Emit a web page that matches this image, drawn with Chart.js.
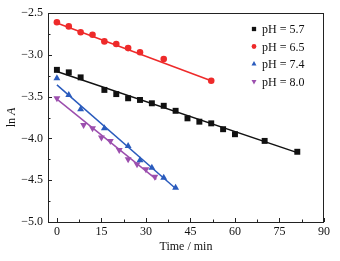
<!DOCTYPE html>
<html>
<head>
<meta charset="utf-8">
<script src="https://cdn.jsdelivr.net/npm/chart.js@4/dist/chart.umd.min.js"></script>
<style>
  html, body { margin: 0; padding: 0; background: #fff; }
  #wrap { width: 340px; height: 261px; }
</style>
</head>
<body>
<div id="wrap"><canvas id="c"></canvas></div>
<script>
// data
const series_labels = ["pH = 5.7", "pH = 6.5", "pH = 7.4", "pH = 8.0"];

const t_57   = [0, 4, 8, 16, 20, 24, 28, 32, 36, 40, 44, 48, 52, 56, 60, 70, 81];
const lnA_57 = [-3.18, -3.21, -3.27, -3.42, -3.47, -3.52, -3.54, -3.58, -3.61, -3.67, -3.76, -3.80, -3.82, -3.89, -3.95, -4.03, -4.16];

const t_65   = [0, 4, 8, 12, 16, 20, 24, 28, 36, 52];
const lnA_65 = [-2.61, -2.66, -2.73, -2.76, -2.84, -2.87, -2.92, -2.97, -3.05, -3.31];

const t_74   = [0, 4, 8, 16, 24, 28, 32, 36, 40];
const lnA_74 = [-3.28, -3.48, -3.65, -3.88, -4.09, -4.26, -4.35, -4.47, -4.59];

const t_80   = [0, 9, 12, 15, 18, 21, 24, 27, 30, 33];
const lnA_80 = [-3.52, -3.84, -3.88, -3.99, -4.03, -4.14, -4.25, -4.31, -4.37, -4.46];

// fitted lines (end points)
const fit_t_57 = [0, 81],   fit_y_57 = [-3.20, -4.17];
const fit_t_65 = [0, 52],   fit_y_65 = [-2.62, -3.31];
const fit_t_74 = [0, 40],   fit_y_74 = [-3.36, -4.60];
const fit_t_80 = [0, 33.5], fit_y_80 = [-3.53, -4.49];

const x_ticks = [0, 15, 30, 45, 60, 75, 90];
const y_ticks = [-2.5, -3.0, -3.5, -4.0, -4.5, -5.0];

const colours = ["#111111", "#ee2a2a", "#2a5bbd", "#9c4fae"];
const styles  = [
  { pointStyle: "rect", radius: 4.2, rotation: 0 },
  { pointStyle: "circle", radius: 3.3, rotation: 0 },
  { pointStyle: "triangle", radius: 4, rotation: 0 },
  { pointStyle: "triangle", radius: 4, rotation: 180 },
];

const FONT = "'Liberation Serif', 'DejaVu Serif', serif";

const pts = (xs, ys) => xs.map((x, i) => ({ x: x, y: ys[i] }));

const point_sets = [pts(t_57, lnA_57), pts(t_65, lnA_65), pts(t_74, lnA_74), pts(t_80, lnA_80)];
const fit_sets   = [pts(fit_t_57, fit_y_57), pts(fit_t_65, fit_y_65), pts(fit_t_74, fit_y_74), pts(fit_t_80, fit_y_80)];

const datasets = [];
point_sets.forEach((d, i) => {
  datasets.push({
    label: series_labels[i],
    data: d,
    showLine: false,
    backgroundColor: colours[i],
    borderColor: colours[i],
    borderWidth: 0,
    pointStyle: styles[i].pointStyle,
    pointRadius: styles[i].radius,
    rotation: styles[i].rotation,
    order: 0,
  });
});
fit_sets.forEach((d, i) => {
  datasets.push({
    label: "fit",
    data: d,
    showLine: true,
    borderColor: colours[i],
    borderWidth: 1.5,
    pointRadius: 0,
    order: 1,
  });
});

// frame, inward ticks, titles and legend
const decorations = {
  id: "decorations",
  afterDraw(chart) {
    const ctx = chart.ctx;
    const a = chart.chartArea;
    const xs = chart.scales.x, ys = chart.scales.y;
    ctx.save();
    ctx.strokeStyle = "#222";
    ctx.lineWidth = 1;
    ctx.strokeRect(a.left + 0.5, a.top + 0.5, a.right - a.left - 1, a.bottom - a.top);

    ctx.beginPath();
    x_ticks.forEach((v, i) => {
      const px = Math.round(xs.getPixelForValue(v)) + 0.5;
      ctx.moveTo(px, a.bottom); ctx.lineTo(px, a.bottom - 4);
      if (i < x_ticks.length - 1) {
        const mx = Math.round(xs.getPixelForValue((v + x_ticks[i + 1]) / 2)) + 0.5;
        ctx.moveTo(mx, a.bottom); ctx.lineTo(mx, a.bottom - 2.5);
      }
    });
    y_ticks.forEach((v, i) => {
      const py = Math.round(ys.getPixelForValue(v)) + 0.5;
      ctx.moveTo(a.left, py); ctx.lineTo(a.left + 4, py);
      if (i < y_ticks.length - 1) {
        const my = Math.round(ys.getPixelForValue((v + y_ticks[i + 1]) / 2)) + 0.5;
        ctx.moveTo(a.left, my); ctx.lineTo(a.left + 2.5, my);
      }
    });
    ctx.stroke();

    // axis titles
    ctx.fillStyle = "#111";
    ctx.font = "12px " + FONT;
    ctx.textAlign = "center";
    ctx.textBaseline = "middle";
    ctx.fillText("Time / min", (a.left + a.right) / 2, 247);

    ctx.save();
    ctx.translate(12, (a.top + a.bottom) / 2);
    ctx.rotate(-Math.PI / 2);
    ctx.textAlign = "left";
    const w1 = ctx.measureText("ln ").width;
    ctx.font = "italic 12px " + FONT;
    const w2 = ctx.measureText("A").width;
    const start = -(w1 + w2) / 2;
    ctx.font = "12px " + FONT;
    ctx.fillText("ln ", start, 0);
    ctx.font = "italic 12px " + FONT;
    ctx.fillText("A", start + w1, 0);
    ctx.restore();

    // legend
    ctx.font = "12px " + FONT;
    ctx.textAlign = "left";
    series_labels.forEach((lab, i) => {
      const y = a.top + 16 + i * 17.5;
      const x = a.right - 70;
      ctx.fillStyle = colours[i];
      ctx.strokeStyle = colours[i];
      Chart.helpers.drawPoint(ctx, {
        pointStyle: styles[i].pointStyle,
        radius: styles[i].radius * 0.72,
        rotation: styles[i].rotation,
        borderWidth: 0,
      }, x, y);
      ctx.fillStyle = "#111";
      ctx.fillText(lab, x + 8, y + 1);
    });
    ctx.restore();
  }
};

new Chart(document.getElementById("c"), {
  type: "scatter",
  data: { datasets: datasets },
  options: {
    responsive: true,
    maintainAspectRatio: false,
    animation: false,
    layout: { padding: { top: 13, right: 16, left: 0, bottom: 0 } },
    plugins: {
      legend: { display: false },
      tooltip: { enabled: false },
    },
    scales: {
      x: {
        type: "linear",
        min: -3,
        max: 90,
        afterBuildTicks: (s) => { s.ticks = x_ticks.map(v => ({ value: v })); },
        afterFit: (s) => { s.height = 39; },
        grid: { display: false, drawTicks: false },
        border: { display: false },
        ticks: {
          color: "#111",
          font: { family: FONT, size: 12 },
          padding: 3,
          maxRotation: 0,
          callback: (v) => String(v),
        },
      },
      y: {
        type: "linear",
        min: -5.0,
        max: -2.5,
        afterBuildTicks: (s) => { s.ticks = y_ticks.map(v => ({ value: v })); },
        afterFit: (s) => { s.width = 48; },
        grid: { display: false, drawTicks: false },
        border: { display: false },
        ticks: {
          color: "#111",
          font: { family: FONT, size: 12 },
          padding: 5,
          callback: (v) => "\u2212" + Math.abs(v).toFixed(1),
        },
      },
    },
  },
  plugins: [decorations],
});
</script>
</body>
</html>
